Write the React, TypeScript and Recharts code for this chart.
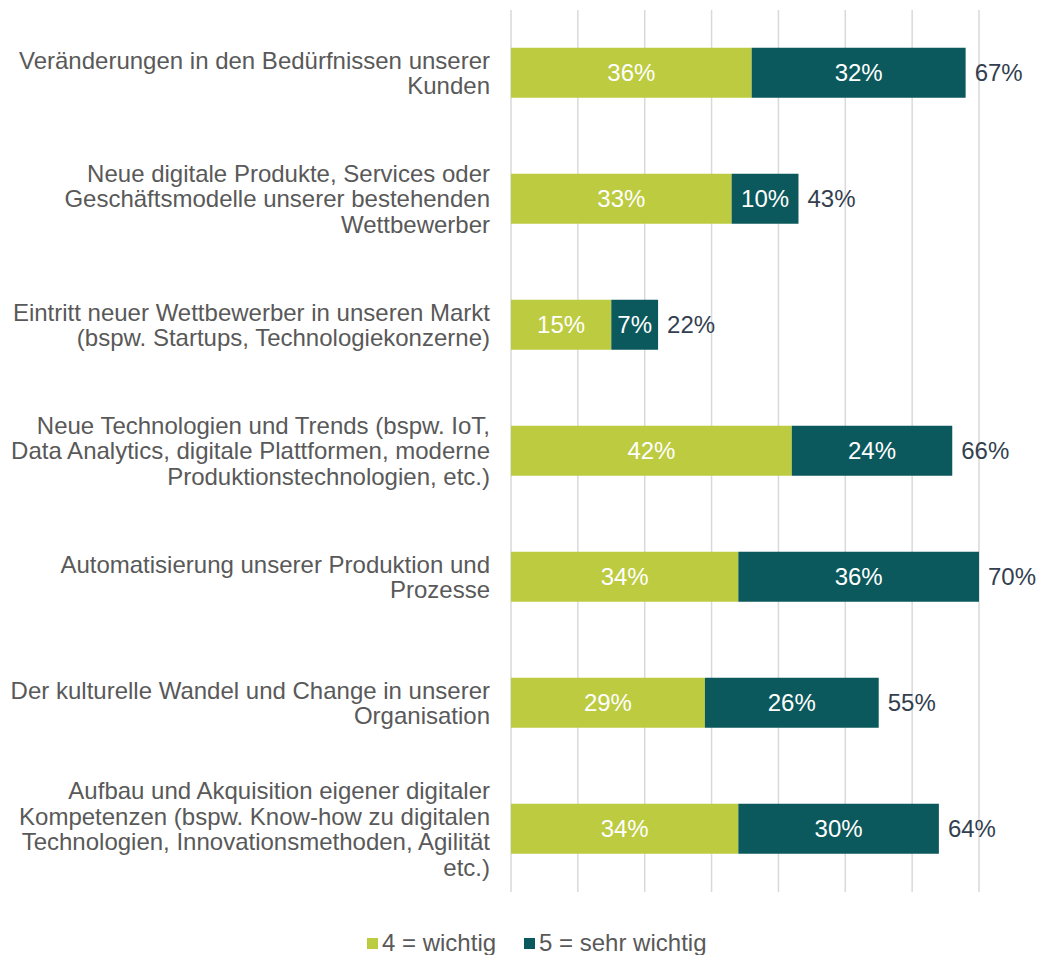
import React from 'react';
import { BarChart, Bar, XAxis, YAxis, CartesianGrid, LabelList } from 'recharts';

const categories = [
  ['Veränderungen in den Bedürfnissen unserer', 'Kunden'],
  ['Neue digitale Produkte, Services oder', 'Geschäftsmodelle unserer bestehenden', 'Wettbewerber'],
  ['Eintritt neuer Wettbewerber in unseren Markt', '(bspw. Startups, Technologiekonzerne)'],
  ['Neue Technologien und Trends (bspw. IoT,', 'Data Analytics, digitale Plattformen, moderne', 'Produktionstechnologien, etc.)'],
  ['Automatisierung unserer Produktion und', 'Prozesse'],
  ['Der kulturelle Wandel und Change in unserer', 'Organisation'],
  ['Aufbau und Akquisition eigener digitaler', 'Kompetenzen (bspw. Know-how zu digitalen', 'Technologien, Innovationsmethoden, Agilität', 'etc.)'],
];
const wichtig = [36, 33, 15, 42, 34, 29, 34];
const sehrWichtig = [32, 10, 7, 24, 36, 26, 30];
const totals = [67, 43, 22, 66, 70, 55, 64];
const xTicks = [0, 10, 20, 30, 40, 50, 60, 70];

const GREEN = '#bccb3f';
const TEAL = '#0b595c';
const FONT = '"Liberation Sans", Arial, sans-serif';
const FS = 24;

const data = categories.map((lines, i) => ({
  name: String(i),
  w: wichtig[i],
  sw: sehrWichtig[i],
  total: totals[i],
}));

function CatTick(props: any) {
  const { y, payload } = props;
  const lines = categories[Number(payload.value)];
  const lh = 25.7;
  const start = -((lines.length - 1) / 2) * lh;
  return (
    <text x={490} y={y} textAnchor="end" fill="#595959" fontSize={FS} fontFamily={FONT}>
      {lines.map((l, k) => (
        <tspan key={k} x={490} y={y + start + k * lh} dy="0.35em">{l}</tspan>
      ))}
    </text>
  );
}

const pct = (v: any) => `${v}%`;

export default function App() {
  return (
    <div style={{ position: 'absolute', left: 0, top: 0, width: 1038, height: 955, background: '#fff', fontFamily: FONT }}>
      <BarChart
        width={1038}
        height={955}
        data={data}
        layout="vertical"
        margin={{ top: 10, right: 59, bottom: 63, left: 0 }}
        barCategoryGap="30%"
      >
        <CartesianGrid vertical horizontal={false} stroke="#d9d9d9" strokeWidth={1.5} />
        <XAxis type="number" domain={[0, 70]} ticks={xTicks} hide />
        <YAxis
          type="category"
          dataKey="name"
          width={511}
          axisLine={false}
          tickLine={false}
          tick={<CatTick />}
          interval={0}
        />
        <Bar dataKey="w" stackId="a" fill={GREEN} isAnimationActive={false}>
          <LabelList dataKey="w" position="center" formatter={pct} fill="#ffffff" fontSize={FS} fontFamily={FONT} />
        </Bar>
        <Bar dataKey="sw" stackId="a" fill={TEAL} isAnimationActive={false}>
          <LabelList dataKey="sw" position="center" formatter={pct} fill="#ffffff" fontSize={FS} fontFamily={FONT} />
          <LabelList dataKey="total" position="right" offset={9} formatter={pct} fill="#333f4f" fontSize={FS} fontFamily={FONT} />
        </Bar>
      </BarChart>
      <div style={{ position: 'absolute', top: 929, left: 367, display: 'flex', fontSize: FS, color: '#595959', lineHeight: '28px' }}>
        <div style={{ display: 'flex', alignItems: 'center' }}>
          <span style={{ width: 11, height: 11, background: GREEN, display: 'inline-block', marginRight: 4 }} />
          <span>4 = wichtig</span>
        </div>
        <div style={{ display: 'flex', alignItems: 'center', marginLeft: 28 }}>
          <span style={{ width: 11, height: 11, background: TEAL, display: 'inline-block', marginRight: 4 }} />
          <span>5 = sehr wichtig</span>
        </div>
      </div>
    </div>
  );
}
